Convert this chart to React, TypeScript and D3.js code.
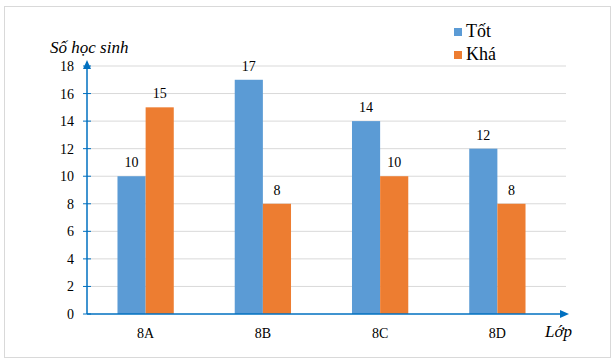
import * as d3 from "d3";

const CLASSES = ["8A", "8B", "8C", "8D"];
const SERIES = ["Tốt", "Khá"];
const TOT = [10, 17, 14, 12];
const KHA = [15, 8, 10, 8];
const Y_TICKS = [0, 2, 4, 6, 8, 10, 12, 14, 16, 18];

const COLORS = ["#5b9bd5", "#ed7d31"];
const AXIS = "#0070c0";
const SERIF = "Liberation Serif";

export default function App() {
  const width = 616;
  const height = 363;
  const margin = { left: 87, right: 60, top: 66, bottom: 49 };
  const plotW = width - margin.left - margin.right;
  const plotH = height - margin.top - margin.bottom;

  const x = d3.scaleBand().domain(CLASSES).range([0, plotW]).paddingInner(0.52).paddingOuter(0.26);
  const xs = d3.scaleBand().domain(SERIES).range([0, x.bandwidth()]);
  const y = d3.scaleLinear().domain([0, 18]).range([plotH, 0]);

  const values = [TOT, KHA];

  return (
    <svg width={width} height={height} fontFamily={SERIF} style={{ position: "absolute", left: 0, top: 0, background: "#fff" }}>
      <style>{`.chart-text { font-family: "Liberation Serif", "Times New Roman", serif !important; }`}</style>
      {/* outer frame */}
      <rect x={4.5} y={6.5} width={606} height={351} fill="#fff" stroke="#d9d9d9" strokeWidth={1} />

      <g transform={`translate(${margin.left},${margin.top})`}>
        {/* gridlines */}
        {Y_TICKS.filter((t) => t > 0).map((t) => (
          <line key={t} x1={0} x2={plotW + 10} y1={y(t)} y2={y(t)} stroke="#d9d9d9" strokeWidth={1} />
        ))}

        {/* bars */}
        {CLASSES.map((c, i) => (
          <g key={c} transform={`translate(${x(c)},0)`}>
            {SERIES.map((s, k) => (
              <g key={s}>
                <rect
                  x={xs(s)}
                  y={y(values[k][i])}
                  width={xs.bandwidth()}
                  height={plotH - y(values[k][i])}
                  fill={COLORS[k]}
                />
                <text
                  className="chart-text"
                  x={(xs(s) ?? 0) + xs.bandwidth() / 2}
                  y={y(values[k][i]) - 9}
                  textAnchor="middle"
                  fontSize={14}
                  fill="#000"
                >
                  {values[k][i]}
                </text>
              </g>
            ))}
            <text className="chart-text" x={x.bandwidth() / 2} y={plotH + 24} textAnchor="middle" fontSize={14} fill="#000">
              {c}
            </text>
          </g>
        ))}

        {/* y axis */}
        <line x1={0} x2={0} y1={plotH} y2={y(18) - 4} stroke={AXIS} strokeWidth={1.5} />
        <path d={`M0,${y(18) - 6} L-4,${y(18) + 3} L4,${y(18) + 3} Z`} fill={AXIS} />
        {Y_TICKS.map((t) => (
          <g key={t}>
            <line x1={-4} x2={4} y1={y(t)} y2={y(t)} stroke={AXIS} strokeWidth={1} />
            <text className="chart-text" x={-13} y={y(t) + 5} textAnchor="end" fontSize={14} fill="#000">
              {t}
            </text>
          </g>
        ))}

        {/* x axis */}
        <line x1={0} x2={plotW + 10} y1={plotH} y2={plotH} stroke={AXIS} strokeWidth={1.5} />
        <path d={`M${plotW + 13},${plotH} L${plotW + 4},${plotH - 4} L${plotW + 4},${plotH + 4} Z`} fill={AXIS} />
      </g>

      {/* axis titles */}
      <text className="chart-text" x={50} y={53} fontSize={17} fontStyle="italic" fill="#000">
        Số học sinh
      </text>
      <text className="chart-text" x={545} y={337} fontSize={17} fontStyle="italic" fill="#000">
        Lớp
      </text>

      {/* legend */}
      {SERIES.map((s, k) => (
        <g key={s} transform={`translate(454,${28 + k * 23})`}>
          <rect x={0} y={0} width={8} height={8} fill={COLORS[k]} />
          <text className="chart-text" x={12} y={9} fontSize={18} fill="#000">
            {s}
          </text>
        </g>
      ))}
    </svg>
  );
}
